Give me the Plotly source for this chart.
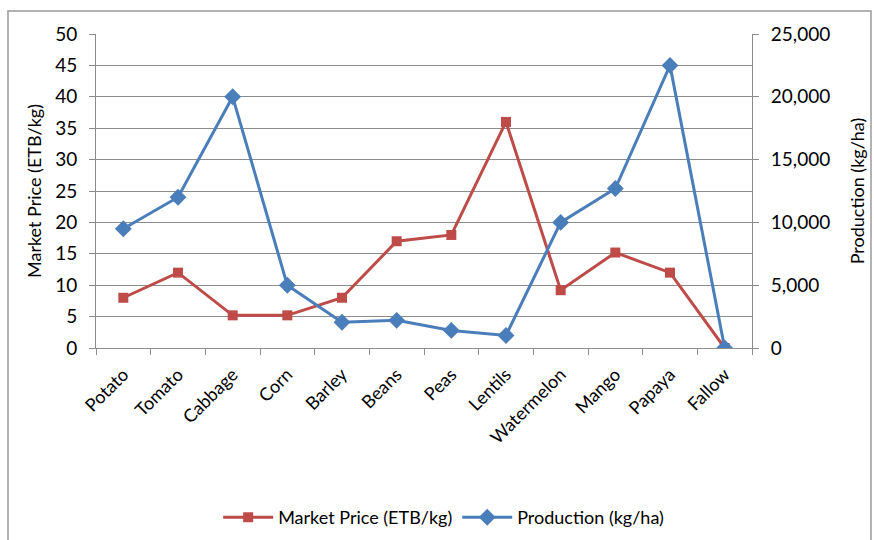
import plotly.graph_objects as go

categories = ["Potato", "Tomato", "Cabbage", "Corn", "Barley", "Beans", "Peas",
              "Lentils", "Watermelon", "Mango", "Papaya", "Fallow"]
market_price = [8, 12, 5.2, 5.2, 8, 17, 18, 36, 9.2, 15.2, 12, 0]
production = [9500, 12000, 20000, 5000, 2050, 2200, 1400, 1000, 10000, 12700, 22500, 0]

red = "#BE4B48"
blue = "#4A7EBB"
grid = "#8C8C8C"
font = "Lato, Open Sans, sans-serif"

fig = go.Figure()
fig.add_trace(go.Scatter(
    x=categories, y=market_price, name="Market Price (ETB/kg)",
    mode="lines+markers", line=dict(color=red, width=3),
    marker=dict(symbol="square", size=10, color=red), yaxis="y"))
fig.add_trace(go.Scatter(
    x=categories, y=production, name="Production (kg/ha)",
    mode="lines+markers", line=dict(color=blue, width=3),
    marker=dict(symbol="diamond", size=13, color=blue), yaxis="y2"))

L, R, T, B = 96, 122, 34, 192
W, H = 874 - L - R, 540 - T - B

fig.update_layout(
    width=874, height=540,
    margin=dict(l=L, r=R, t=T, b=B, autoexpand=False),
    paper_bgcolor="white", plot_bgcolor="white",
    font=dict(family=font, size=17, color="black"),
    xaxis=dict(
        type="category", tickangle=-45, tickson="boundaries",
        ticks="outside", ticklen=6, tickcolor=grid, ticklabelstandoff=8,
        showline=True, linecolor=grid, linewidth=1, automargin=False,
        showgrid=False, tickfont=dict(size=18),
        range=[-0.5, len(categories) - 0.5]),
    yaxis=dict(
        title=dict(text="Market Price (ETB/kg)", font=dict(size=18), standoff=8),
        range=[0, 50], dtick=5, ticks="outside", ticklen=6, tickcolor=grid,
        ticklabelstandoff=8, automargin=False,
        showline=True, linecolor=grid, showgrid=True, gridcolor=grid,
        gridwidth=1, zeroline=False, tickfont=dict(size=19)),
    yaxis2=dict(
        title=dict(text="Production (kg/ha)", font=dict(size=18), standoff=22),
        overlaying="y", side="right", range=[0, 25000], dtick=5000,
        tickformat=",", ticks="outside", ticklen=6, tickcolor=grid,
        ticklabelstandoff=8, automargin=False,
        showline=True, linecolor=grid, showgrid=False, zeroline=False,
        tickfont=dict(size=19)),
    legend=dict(
        orientation="h", x=0.53, xanchor="center", y=-0.54, yanchor="middle",
        font=dict(size=18), itemwidth=50, tracegroupgap=0, traceorder="normal"),
    showlegend=True,
)

fig.add_shape(type="rect", xref="paper", yref="paper",
              x0=(8 - L) / W, x1=(871 - L) / W,
              y0=(540 - B - 545) / H, y1=(540 - B - 11) / H,
              line=dict(color="#9A9A9A", width=1.5), layer="below")

fig.write_html("out.html")
